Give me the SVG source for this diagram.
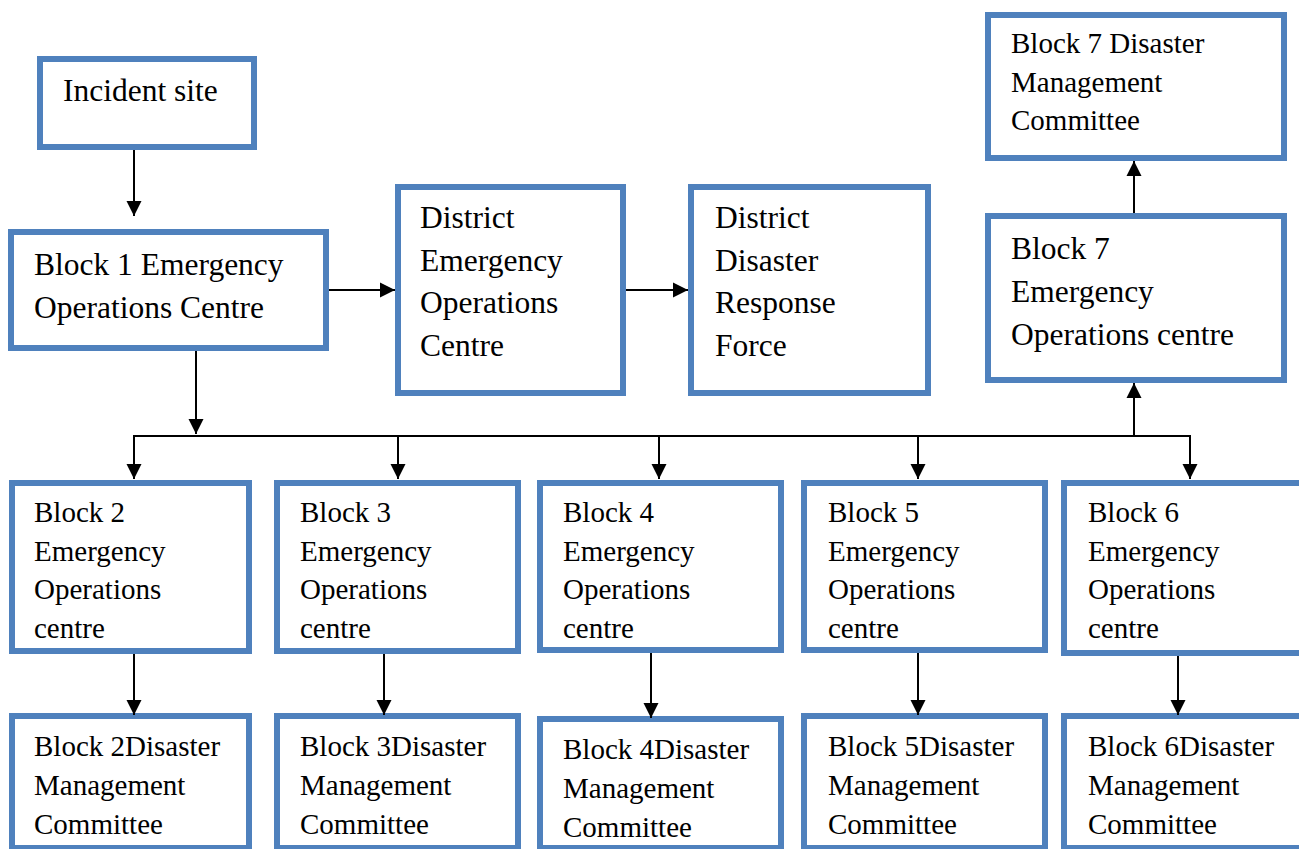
<svg xmlns="http://www.w3.org/2000/svg" width="1299" height="849" viewBox="0 0 1299 849">
  <defs>
    <marker id="arrow" markerUnits="userSpaceOnUse" markerWidth="16" markerHeight="16" viewBox="0 0 16 16" refX="15" refY="8" orient="auto">
      <path d="M0,0.5 L15,8 L0,15.5 z" fill="#000"/>
    </marker>
    <style>
      .box { fill: #fff; stroke: #4F81BD; stroke-width: 6; }
      .lbl { font-family: "Liberation Serif", "Times New Roman", serif; fill: #000; }
      .big { font-size: 31.5px; }
      .sm { font-size: 29px; }
      .conn line { stroke: #000; stroke-width: 2; fill: none; }
    </style>
  </defs>
  <rect width="1299" height="849" fill="#fff"/>

  <g id="incident-site">
    <rect class="box" x="40" y="59" width="214" height="88"/>
    <text class="lbl big" x="63" y="101">Incident site</text>
  </g>

  <g id="block1-eoc">
    <rect class="box" x="11" y="232" width="315" height="116"/>
    <text class="lbl big" x="34" y="275"><tspan x="34">Block 1 Emergency</tspan><tspan x="34" dy="43">Operations Centre</tspan></text>
  </g>

  <g id="district-eoc">
    <rect class="box" x="398" y="187" width="225" height="206"/>
    <text class="lbl big" y="228"><tspan x="420">District</tspan><tspan x="420" dy="42.7">Emergency</tspan><tspan x="420" dy="42.7">Operations</tspan><tspan x="420" dy="42.7">Centre</tspan></text>
  </g>

  <g id="district-drf">
    <rect class="box" x="691" y="187" width="237" height="206"/>
    <text class="lbl big" y="228"><tspan x="715">District</tspan><tspan x="715" dy="42.7">Disaster</tspan><tspan x="715" dy="42.7">Response</tspan><tspan x="715" dy="42.7">Force</tspan></text>
  </g>

  <g id="block7-dmc">
    <rect class="box" x="988" y="15" width="296" height="143"/>
    <text class="lbl sm" y="53"><tspan x="1011">Block 7 Disaster</tspan><tspan x="1011" dy="38.5">Management</tspan><tspan x="1011" dy="38.5">Committee</tspan></text>
  </g>

  <g id="block7-eoc">
    <rect class="box" x="988" y="216" width="296" height="164"/>
    <text class="lbl big" y="259"><tspan x="1011">Block 7</tspan><tspan x="1011" dy="43">Emergency</tspan><tspan x="1011" dy="43">Operations centre</tspan></text>
  </g>

  <g id="block2-eoc">
    <rect class="box" x="12" y="483" width="237" height="168"/>
    <text class="lbl sm" y="522"><tspan x="34">Block 2</tspan><tspan x="34" dy="38.7">Emergency</tspan><tspan x="34" dy="38.7">Operations</tspan><tspan x="34" dy="38.7">centre</tspan></text>
  </g>

  <g id="block3-eoc">
    <rect class="box" x="277" y="483" width="241" height="168"/>
    <text class="lbl sm" y="522"><tspan x="300">Block 3</tspan><tspan x="300" dy="38.7">Emergency</tspan><tspan x="300" dy="38.7">Operations</tspan><tspan x="300" dy="38.7">centre</tspan></text>
  </g>

  <g id="block4-eoc">
    <rect class="box" x="540" y="483" width="241" height="167"/>
    <text class="lbl sm" y="522"><tspan x="563">Block 4</tspan><tspan x="563" dy="38.7">Emergency</tspan><tspan x="563" dy="38.7">Operations</tspan><tspan x="563" dy="38.7">centre</tspan></text>
  </g>

  <g id="block5-eoc">
    <rect class="box" x="804" y="483" width="241" height="167"/>
    <text class="lbl sm" y="522"><tspan x="828">Block 5</tspan><tspan x="828" dy="38.7">Emergency</tspan><tspan x="828" dy="38.7">Operations</tspan><tspan x="828" dy="38.7">centre</tspan></text>
  </g>

  <g id="block6-eoc">
    <rect class="box" x="1064" y="483" width="245" height="170"/>
    <text class="lbl sm" y="522"><tspan x="1088">Block 6</tspan><tspan x="1088" dy="38.7">Emergency</tspan><tspan x="1088" dy="38.7">Operations</tspan><tspan x="1088" dy="38.7">centre</tspan></text>
  </g>

  <g id="block2-dmc">
    <rect class="box" x="12" y="716" width="237" height="132"/>
    <text class="lbl sm" y="756"><tspan x="34">Block 2Disaster</tspan><tspan x="34" dy="39">Management</tspan><tspan x="34" dy="39">Committee</tspan></text>
  </g>

  <g id="block3-dmc">
    <rect class="box" x="277" y="716" width="241" height="132"/>
    <text class="lbl sm" y="756"><tspan x="300">Block 3Disaster</tspan><tspan x="300" dy="39">Management</tspan><tspan x="300" dy="39">Committee</tspan></text>
  </g>

  <g id="block4-dmc">
    <rect class="box" x="540" y="719" width="241" height="129"/>
    <text class="lbl sm" y="759"><tspan x="563">Block 4Disaster</tspan><tspan x="563" dy="39">Management</tspan><tspan x="563" dy="39">Committee</tspan></text>
  </g>

  <g id="block5-dmc">
    <rect class="box" x="804" y="716" width="241" height="132"/>
    <text class="lbl sm" y="756"><tspan x="828">Block 5Disaster</tspan><tspan x="828" dy="39">Management</tspan><tspan x="828" dy="39">Committee</tspan></text>
  </g>

  <g id="block6-dmc">
    <rect class="box" x="1064" y="716" width="245" height="132"/>
    <text class="lbl sm" y="756"><tspan x="1088">Block 6Disaster</tspan><tspan x="1088" dy="39">Management</tspan><tspan x="1088" dy="39">Committee</tspan></text>
  </g>

  <g id="connectors" class="conn">
    <line x1="134" y1="150" x2="134" y2="216" marker-end="url(#arrow)"/>
    <line x1="329" y1="290" x2="395" y2="290" marker-end="url(#arrow)"/>
    <line x1="626" y1="290" x2="688" y2="290" marker-end="url(#arrow)"/>
    <line x1="196" y1="351" x2="196" y2="434" marker-end="url(#arrow)"/>
    <line x1="134" y1="436" x2="1190" y2="436"/>
    <line x1="134" y1="435" x2="134" y2="479" marker-end="url(#arrow)"/>
    <line x1="398" y1="436" x2="398" y2="479" marker-end="url(#arrow)"/>
    <line x1="659" y1="436" x2="659" y2="479" marker-end="url(#arrow)"/>
    <line x1="918" y1="436" x2="918" y2="479" marker-end="url(#arrow)"/>
    <line x1="1190" y1="435" x2="1190" y2="479" marker-end="url(#arrow)"/>
    <line x1="1134" y1="436" x2="1134" y2="383" marker-end="url(#arrow)"/>
    <line x1="1134" y1="213" x2="1134" y2="161" marker-end="url(#arrow)"/>
    <line x1="134" y1="654" x2="134" y2="715" marker-end="url(#arrow)"/>
    <line x1="384" y1="654" x2="384" y2="715" marker-end="url(#arrow)"/>
    <line x1="651" y1="653" x2="651" y2="718" marker-end="url(#arrow)"/>
    <line x1="918" y1="653" x2="918" y2="715" marker-end="url(#arrow)"/>
    <line x1="1178" y1="656" x2="1178" y2="715" marker-end="url(#arrow)"/>
  </g>
</svg>
